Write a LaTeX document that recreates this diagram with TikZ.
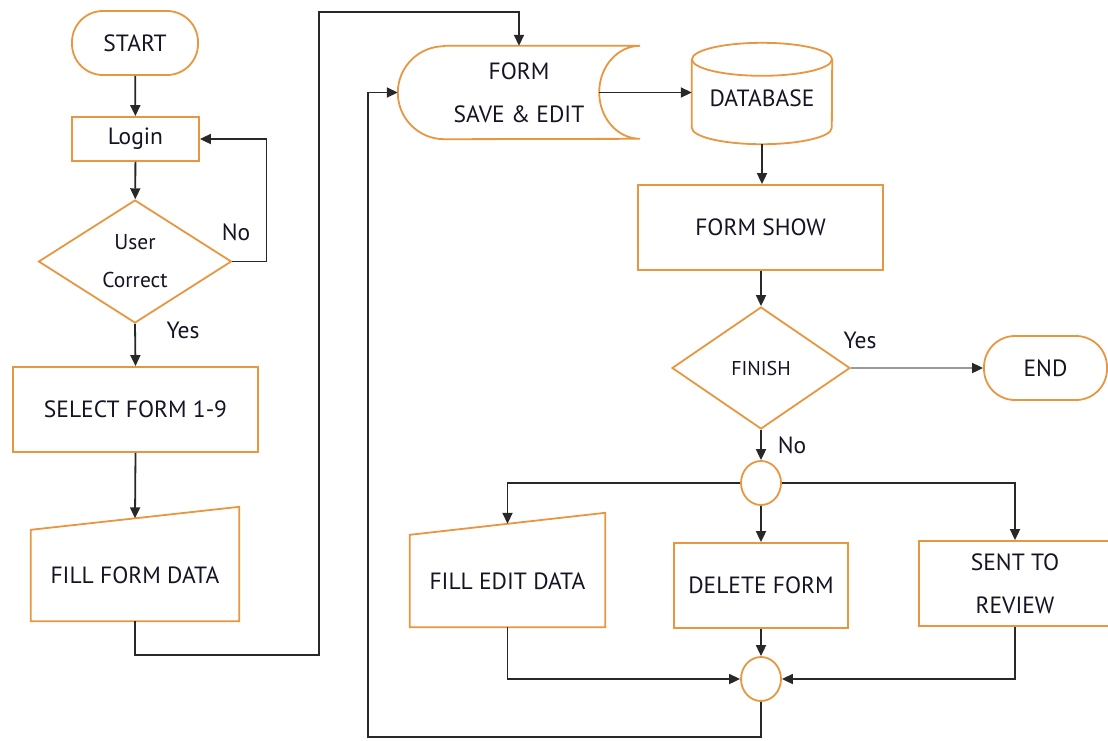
\documentclass[tikz,border=0pt]{standalone}
\usepackage{fontspec}
\setmainfont{PT Sans}
\usetikzlibrary{shapes.geometric,arrows.meta,calc}
\definecolor{orangeC}{RGB}{232,150,64}
\definecolor{lineC}{RGB}{40,40,40}
\definecolor{textC}{RGB}{20,20,35}
\tikzset{
  ob/.style={draw=orangeC, line width=1.8pt},
  big/.style={font=\fontsize{23.5}{43}\selectfont, text=textC},
  small/.style={font=\fontsize{21.5}{38}\selectfont, text=textC},
  tiny/.style={font=\fontsize{20}{38}\selectfont, text=textC},
  term/.style={ob, big, rectangle, rounded corners=31pt},
  proc/.style={ob, big, rectangle},
  ghost/.style={big, rectangle, inner sep=0pt, align=center},
  dec/.style={ob, diamond, inner sep=0pt, shape aspect=1.57, align=center},
  jn/.style={ob, ellipse, inner sep=0pt, minimum width=40pt, minimum height=44pt},
  tip/.style={-{Triangle[length=11pt,width=10pt,color=lineC]}},
  conn/.style={draw=lineC, line width=1.8pt, tip},
  lbl/.style={big}
}
\begin{document}
\begin{tikzpicture}[x=1pt,y=-1pt]
\useasboundingbox (0,0) rectangle (1108,740);
% left column
\node[term, minimum width=126pt, minimum height=64pt] (start) at (135,43) {START};
\node[proc, minimum width=127pt, minimum height=44pt] (login) at (135.5,139) {Login};
\node[dec, small, minimum width=193pt, minimum height=123pt] (user) at (135,261.5) {User\\Correct};
\node[proc, minimum width=245pt, minimum height=85pt] (select) at (135.5,409.5) {SELECT FORM 1-9};
\node[ghost, minimum width=208pt, minimum height=91pt] (ffd) at (135,575.5) {FILL FORM DATA};
\draw[ob] (ffd.south west) -- (ffd.north west) -- ($(ffd.north east)+(0,-23)$) -- (ffd.south east) -- cycle;
\coordinate (ffdTop) at ($(ffd.north)+(0,-11.5)$);
% form save & edit
\node[ghost, minimum width=242pt, minimum height=93pt] (form) at (519,92.5) {FORM\\SAVE \& EDIT};
\draw[ob] ($(form.north west)+(46.5,0)$) -- (form.north east)
  arc[start angle=270, end angle=90, x radius=41, y radius=46.5]
  -- ($(form.south west)+(46.5,0)$)
  arc[start angle=90, end angle=270, radius=46.5] -- cycle;
\coordinate (formR) at ($(form.east)+(-41,0)$);
% database
\node[ghost, minimum width=140pt, minimum height=101pt,
      label={[big, yshift=-5pt]center:DATABASE}] (db) at (762,93.5) {};
\draw[ob] ($(db.north west)+(0,16.5)$) -- ($(db.south west)+(0,-16.5)$)
  arc[start angle=180, end angle=0, x radius=70, y radius=16.5]
  -- ($(db.north east)+(0,16.5)$);
\draw[ob] ($(db.north)+(0,16.5)$) ellipse[x radius=70, y radius=16.5];
% right column
\node[proc, minimum width=245pt, minimum height=85pt] (show) at (760.5,227.5) {FORM SHOW};
\node[dec, tiny, minimum width=178pt, minimum height=122pt] (fin) at (761,368) {FINISH};
\node[term, minimum width=123pt, minimum height=64pt] (end) at (1045.5,368) {END};
\node[jn] (j1) at (761,483) {};
\node[ghost, minimum width=195pt, minimum height=92pt] (fed) at (507.5,581) {FILL EDIT DATA};
\draw[ob] (fed.south west) -- (fed.north west) -- ($(fed.north east)+(0,-22)$) -- (fed.south east) -- cycle;
\coordinate (fedTop) at ($(fed.north)+(0,-11)$);
\node[proc, minimum width=174pt, minimum height=85pt] (del) at (761,585.5) {DELETE FORM};
\node[proc, minimum width=192pt, minimum height=85pt, align=center] (sent) at (1015,583.5) {SENT TO\\REVIEW};
\node[jn] (j2) at (761,679) {};
% bend points
\coordinate (c1) at (319,655);
\coordinate (c2) at (319,12);
\coordinate (c3) at (368,737);
% connectors
\draw[conn] (start) -- (login);
\draw[conn] (login) -- (user);
\draw[conn] (user.east) -- ++(34,0) |- (login.east);
\node[lbl] (noA) at (236,232) {No};
\draw[conn] (user.south) -- (select.north);
\node[lbl] (yesA) at (183,330) {Yes};
\draw[conn] (select.south) -- (ffdTop);
\draw[conn] (ffd.south) |- (c1) -- (c2) -| (form.north);
\draw[conn] (formR) -- (formR -| db.west);
\draw[conn] (db.south) -- (db.south |- show.north);
\draw[conn] (show.south -| fin.north) -- (fin.north);
\draw[draw=gray!80, line width=1.8pt, tip] (fin.east) -- (end.west);
\node[lbl] (yesB) at (860,340) {Yes};
\draw[conn] (fin.south) -- (j1.north);
\node[lbl] (noB) at (792,445) {No};
\draw[conn] (j1.west) -| (fedTop);
\draw[conn] (j1.east) -| (sent.north);
\draw[conn] (j1.south) -- (del.north);
\draw[conn] (fed.south) |- (j2.west);
\draw[conn] (sent.south) |- (j2.east);
\draw[conn] (del.south) -- (j2.north);
\draw[conn] (j2.south) |- (c3) |- (form.west);
\end{tikzpicture}
\end{document}
